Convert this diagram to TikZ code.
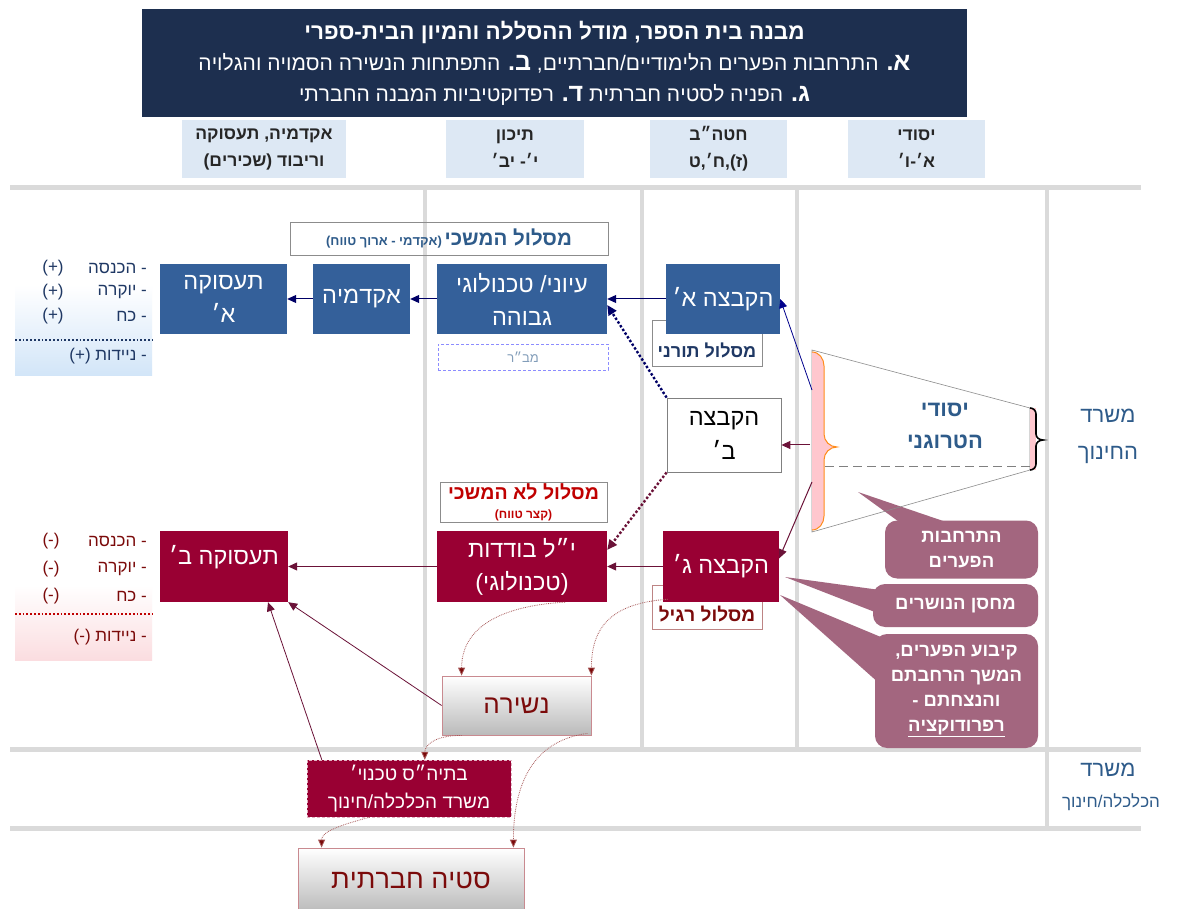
\documentclass[tikz,border=0pt]{standalone}
\usepackage{fontspec}
\setmainfont{Liberation Sans}
\TeXXeTstate=1
\usetikzlibrary{arrows.meta}

\newcommand{\R}[1]{{\beginR #1\endR}}
\newcommand{\fs}[2]{\fontsize{#1}{#2}\selectfont}

\definecolor{titlebg}{HTML}{1D2F4F}
\definecolor{hdrbg}{HTML}{DDE8F4}
\definecolor{gridgray}{HTML}{DADADA}
\definecolor{boxblue}{HTML}{34609A}
\definecolor{boxred}{HTML}{990033}
\definecolor{mauve}{HTML}{A3667F}
\definecolor{arrnavy}{HTML}{000066}
\definecolor{arrred}{HTML}{6B1238}
\definecolor{txtnavy}{HTML}{1F3864}
\definecolor{txtblue}{HTML}{2E5B8A}
\definecolor{txtdred}{HTML}{7B0A0A}
\definecolor{txtred}{HTML}{C00000}
\definecolor{curvered}{HTML}{A85A5A}
\definecolor{listblue}{HTML}{D2E5F8}
\definecolor{listpink}{HTML}{FBDDE0}
\definecolor{barpink}{HTML}{FFC7CE}
\definecolor{braceorange}{HTML}{FF8C1A}
\definecolor{nesborder}{HTML}{C98A90}

\tikzset{
  gridline/.style={draw=gridgray, line width=5pt},
  colline/.style={draw=gridgray, line width=4pt},
  titlebox/.style={fill=titlebg, text=white, minimum width=825pt, minimum height=108pt, inner sep=0pt, align=center, font=\fs{21}{31}},
  hdrbox/.style={fill=hdrbg, minimum height=58pt, inner sep=0pt, align=center, font=\bfseries\fs{17.5}{27}, text=black!85},
  bluebox/.style={fill=boxblue, text=white, minimum height=70pt, inner sep=0pt, align=center, font=\fs{23.5}{33}},
  redbox/.style={fill=boxred, text=white, minimum height=71pt, inner sep=0pt, align=center, font=\fs{23.5}{33}},
  tagbox/.style={draw=black!45, line width=0.6pt, inner sep=0pt, align=center},
  greybox/.style={draw=nesborder, line width=0.8pt, top color=white, bottom color=black!27, text=txtdred, inner sep=0pt},
  callout/.style={fill=mauve, text=white, rounded corners=12pt, inner sep=0pt, align=center, font=\bfseries\fs{18.5}{25}},
  listA/.style={text=txtnavy, font=\fs{17}{20}, inner sep=0pt},
  listB/.style={text=txtdred, font=\fs{17}{20}, inner sep=0pt},
  sidetxt/.style={text=txtblue, align=center, inner sep=0pt},
  navyarr/.style={draw=arrnavy, line width=1pt, -{Triangle[length=9pt,width=8pt]}},
  redarr/.style={draw=arrred, line width=1pt, -{Triangle[length=9pt,width=8pt]}},
  dotnavy/.style={draw=arrnavy, line width=2.4pt, dotted, -{Triangle[length=10pt,width=9pt]}},
  dotred/.style={draw=arrred, line width=2.4pt, dotted, -{Triangle[length=10pt,width=9pt]}},
  curvearr/.style={draw=curvered, line width=0.8pt, densely dotted, -{Triangle[length=8pt,width=7pt,fill=txtdred]}}
}

\begin{document}
\begin{tikzpicture}[x=1pt,y=-1pt]
\useasboundingbox[fill=white] (0,0) rectangle (1179,909);

% grid of the columns and ministries
\draw[gridline] (10,188) -- (1141,188);
\draw[gridline] (10,749) -- (1141,749);
\draw[gridline] (10,828) -- (1141,828);
\foreach \cx in {425,642,797}
  \draw[colline] (\cx,190) -- (\cx,747);
\draw[colline] (1047,190) -- (1047,826);

% title
\node[titlebox] (title) at (554.5,63) {%
  \R{\bfseries\fs{22.5}{31}מבנה בית הספר, מודל ההסללה והמיון הבית-ספרי}\\
  \R{{\bfseries\fs{25}{31}א.} התרחבות הפערים הלימודיים/חברתיים, {\bfseries\fs{25}{31}ב.} התפתחות הנשירה הסמויה והגלויה}\\
  \R{{\bfseries\fs{25}{31}ג.} הפניה לסטיה חברתית {\bfseries\fs{25}{31}ד.} רפדוקטיביות המבנה החברתי}};

% column headers
\node[hdrbox, minimum width=164pt] (hdrAcad) at (264,149) {\R{אקדמיה, תעסוקה}\\\R{וריבוד (שכירים)}};
\node[hdrbox, minimum width=138pt] (hdrHigh) at (515,149) {\R{תיכון}\\\R{י׳- יב׳}};
\node[hdrbox, minimum width=137pt] (hdrMid) at (718.5,149) {\R{חטה״ב}\\\R{(ז),ח׳,ט}};
\node[hdrbox, minimum width=137pt] (hdrElem) at (916.5,149) {\R{יסודי}\\\R{א׳-ו׳}};

% ministries
\node[sidetxt, font=\fs{22}{37}] (moe) at (1108,436) {\R{משרד}\\\R{החינוך}};
\node[sidetxt, font=\fs{22}{24}] (moeco) at (1108,770) {\R{משרד}};
\node[sidetxt, font=\fs{17}{19}] (moecoB) at (1111,802) {\R{הכלכלה/חינוך}};

% side lists
\shade[top color=white, bottom color=listblue] (15,285) rectangle (152,376);
\shade[top color=white, bottom color=listpink] (15,585) rectangle (152,660);
\draw[draw=txtnavy, line width=1.8pt, dotted] (15,340) -- (152,340);
\draw[draw=txtred, line width=1.8pt, dotted] (15,614) -- (152,614);
\node[listA, anchor=east] (incA) at (147,268) {\R{- הכנסה}};
\node[listA, anchor=east] (presA) at (147,292) {\R{- יוקרה}};
\node[listA, anchor=east] (powA) at (147,316) {\R{- כח}};
\node[listA, anchor=east] (mobA) at (147,356) {\R{- ניידות (+)}};
\foreach \ry/\rn in {268/incAs,292/presAs,316/powAs}
  \node[listA] (\rn) at (53,\ry) {(+)};
\node[listB, anchor=east] (incB) at (147,541) {\R{- הכנסה}};
\node[listB, anchor=east] (presB) at (147,569) {\R{- יוקרה}};
\node[listB, anchor=east] (powB) at (147,596) {\R{- כח}};
\node[listB, anchor=east] (mobB) at (147,637) {\R{- ניידות (-)}};
\foreach \ry/\rn in {541/incBs,569/presBs,596/powBs}
  \node[listB] (\rn) at (51,\ry) {(-)};

% track labels
\node[tagbox, minimum width=318pt, minimum height=33pt, text=txtblue] (trackCont) at (449,238.5)
  {\R{{\bfseries\fs{20.5}{22}מסלול המשכי} {\bfseries\fs{13}{14}(אקדמי - ארוך טווח)}}};
\node[tagbox, draw=blue!45, densely dashed, minimum width=170pt, minimum height=26pt, text=txtblue!60, font=\fs{13}{15}] (mabar) at (523,357) {\R{מב״ר}};
\node[tagbox, minimum width=110pt, minimum height=46pt] (trackTor) at (707,343) {};
\node[tagbox, draw=txtdred!50, minimum width=110pt, minimum height=44pt] (trackReg) at (707,607) {};
\node[tagbox, minimum width=167pt, minimum height=40pt, text=txtred, font=\fs{12}{19}] (trackShort) at (523.5,502)
  {\R{\bfseries\fs{19.5}{21}מסלול לא המשכי}\\\R{\bfseries\fs{12}{13}(קצר טווח)}};

% ability groups and paths
\node[bluebox, minimum width=114pt] (grpA) at (723,299) {\R{הקבצה א׳}};
\node[bluebox, minimum width=170pt] (iyuni) at (522,299) {\R{עיוני/ טכנולוגי}\\\R{גבוהה}};
\node[bluebox, minimum width=97pt] (akad) at (361.5,299) {\R{אקדמיה}};
\node[bluebox, minimum width=127pt] (taasA) at (223.5,299) {\R{תעסוקה}\\\R{א׳}};
\node[draw=black!50, line width=0.8pt, fill=white, minimum width=114pt, minimum height=74pt, inner sep=0pt, align=center, font=\fs{23.5}{34}] (grpB) at (724,435) {\R{הקבצה}\\\R{ב׳}};
\node[redbox, minimum width=116pt] (grpC) at (721,566.5) {\R{הקבצה ג׳}};
\node[redbox, minimum width=170pt] (yul) at (522,566.5) {\R{י״ל בודדות}\\\R{(טכנולוגי)}};
\node[redbox, minimum width=128pt, text depth=24pt] (taasB) at (224,566.5) {\R{תעסוקה ב׳}};
\node[text=txtnavy, font=\bfseries\fs{18}{20}, inner sep=0pt] (torTxt) at (707,350) {\R{מסלול תורני}};
\node[text=txtdred, font=\bfseries\fs{19}{21}, inner sep=0pt] (regTxt) at (707,614) {\R{מסלול רגיל}};

% dropout and deviance
\node[greybox, minimum width=149pt, minimum height=59pt, font=\fs{26}{28}] (nesira) at (516.5,705.5) {\R{נשירה}};
\node[fill=boxred, draw=white!70!boxred, densely dashed, text=white, minimum width=204pt, minimum height=57pt, inner sep=0pt, align=center, font=\fs{19}{28}] (btihas) at (409,788.5) {\R{בתיה״ס טכנוי׳}\\\R{משרד הכלכלה/חינוך}};
\node[greybox, minimum width=226pt, minimum height=64pt, font=\fs{27}{29}] (stiya) at (411,880) {\R{סטיה חברתית}};

% callouts
\coordinate (tipGap) at (858,492);
\coordinate (tipStore) at (785,577);
\coordinate (tipFix) at (780,595);
\fill[mauve] (tipGap) -- (902,524) -- (952,524) -- cycle;
\fill[mauve] (tipStore) -- (880,590) -- (880,614) -- cycle;
\fill[mauve] (tipFix) -- (888,640) -- (880,684) -- cycle;
\node[callout, minimum width=153pt, minimum height=58pt] (gapTxt) at (961.5,549.5) {\R{התרחבות}\\\R{הפערים}};
\node[callout, minimum width=165pt, minimum height=43pt] (storeTxt) at (955.5,605.5) {\R{מחסן הנושרים}};
\node[callout, minimum width=163pt, minimum height=114pt] (fixTxt) at (956.5,691) {\R{קיבוע הפערים,}\\\R{המשך הרחבתם}\\\R{והנצחתם -}\\\R{\underline{רפרודוקציה}}};

% heterogeneous elementary school
\draw[draw=black!45, line width=0.6pt] (812,350) -- (1030,408) -- (1030,470) -- (812,532) -- cycle;
\fill[barpink] (812,352) to[out=0,in=90] (824,366) -- (824,434) to[out=-90,in=180] (837,447) to[out=180,in=90] (824,460) -- (824,516) to[out=-90,in=0] (812,530) -- cycle;
\draw[draw=braceorange, line width=1pt] (812,352) to[out=0,in=90] (824,366) -- (824,434) to[out=-90,in=180] (837,447) to[out=180,in=90] (824,460) -- (824,516) to[out=-90,in=0] (812,530);
\fill[barpink] (1030,408) rectangle (1036,470);
\draw[line width=1.6pt] (1030,408) to[out=0,in=90] (1036,414) -- (1036,434) to[out=-90,in=180] (1043,440) to[out=180,in=90] (1036,446) -- (1036,464) to[out=-90,in=0] (1030,470);
\draw[draw=black!50, line width=1pt, dashed, dash pattern=on 9pt off 5pt] (825,466) -- (1030,466);
\node[text=txtblue, font=\bfseries\fs{22}{32}, align=center, inner sep=0pt] (hetero) at (945,426) {\R{יסודי}\\\R{הטרוגני}};

% connectors
\coordinate (barA) at (812,390);
\coordinate (barB) at (810,445);
\coordinate (barC) at (812,482);
\draw[draw=blue!55!black, line width=0.8pt, -{Triangle[length=9pt,width=8pt]}] (barA) -- (grpA.east);
\draw[redarr] (barB) -- (grpB.east |- barB);
\draw[redarr] (barC) -- (grpC.8);
\draw[navyarr] (grpA) -- (iyuni);
\draw[navyarr] (iyuni) -- (akad);
\draw[navyarr] (akad) -- (taasA);
\draw[redarr] (grpC.west |- yul) -- (yul);
\draw[redarr] (yul) -- (taasB);
\draw[dotnavy] (grpB.north west) -- (iyuni.-4);
\draw[dotred] (grpB.south west) -- (yul.11);
\draw[redarr, line width=0.8pt] (nesira.west) -- (taasB.south east);
\draw[redarr, line width=0.8pt] ([xshift=15pt]btihas.north west) -- ([xshift=44pt]taasB.south);
\draw[curvearr] ([xshift=43pt]yul.south) .. controls +(-70,4) and +(0,-45) .. ([xshift=20pt]nesira.north west);
\draw[curvearr] ([xshift=5pt,yshift=3pt]grpC.south west) .. controls +(-55,4) and +(0,-50) .. (nesira.north east);
\draw[curvearr] ([xshift=20pt]nesira.south west) .. controls +(-28,0) and +(0,-14) .. ([xshift=118pt]btihas.north west);
\draw[curvearr] ([xshift=-4pt,yshift=2pt]nesira.south east) .. controls +(-60,8) and +(0,-55) .. ([xshift=-11pt]stiya.north east);
\draw[curvearr] ([xshift=63pt]btihas.south west) .. controls +(-30,8) and +(0,-16) .. ([xshift=24pt]stiya.north west);
\end{tikzpicture}
\end{document}
